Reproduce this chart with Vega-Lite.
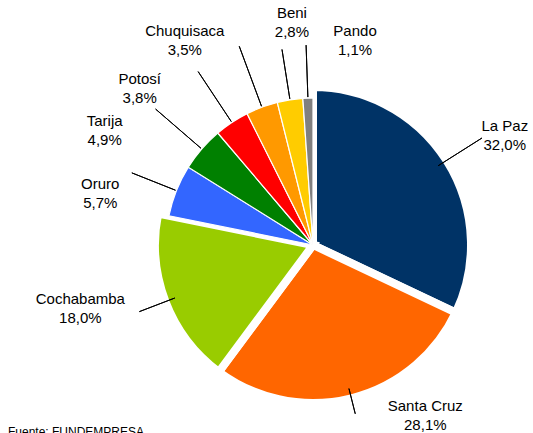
{
  "$schema": "https://vega.github.io/schema/vega-lite/v6.json",
  "autosize": "none",
  "padding": {"left": 93, "top": 57, "right": 0, "bottom": 0},
  "width": 440,
  "height": 376,
  "background": "white",
  "config": {"view": {"stroke": null}, "font": "Liberation Sans"},
  "title": {
    "text": "Fuente: FUNDEMPRESA",
    "orient": "bottom",
    "anchor": "start",
    "frame": "group",
    "fontSize": 12,
    "fontWeight": "normal",
    "font": "Liberation Sans",
    "color": "#000000",
    "offset": -6,
    "dx": -85
  },
  "data": {
    "values": [
      {"region": "La Paz", "pct": 32.0, "etiqueta": "32,0%", "orden": 1},
      {"region": "Santa Cruz", "pct": 28.1, "etiqueta": "28,1%", "orden": 2},
      {"region": "Cochabamba", "pct": 18.0, "etiqueta": "18,0%", "orden": 3},
      {"region": "Oruro", "pct": 5.7, "etiqueta": "5,7%", "orden": 4},
      {"region": "Tarija", "pct": 4.9, "etiqueta": "4,9%", "orden": 5},
      {"region": "Potosí", "pct": 3.8, "etiqueta": "3,8%", "orden": 6},
      {"region": "Chuquisaca", "pct": 3.5, "etiqueta": "3,5%", "orden": 7},
      {"region": "Beni", "pct": 2.8, "etiqueta": "2,8%", "orden": 8},
      {"region": "Pando", "pct": 1.1, "etiqueta": "1,1%", "orden": 9}
    ]
  },
  "layer": [
    {
      "mark": {
        "type": "arc",
        "stroke": "white",
        "radius": {"expr": "indexof(['La Paz','Santa Cruz','Cochabamba'], datum.region) >= 0 ? 158 : 147"},
        "strokeWidth": {"expr": "indexof(['La Paz','Santa Cruz','Cochabamba'], datum.region) >= 0 ? 8 : 1.2"}
      },
      "encoding": {
        "theta": {"field": "pct", "type": "quantitative", "stack": true, "scale": {"domain": [0, 99.9]}},
        "order": {"field": "orden", "type": "quantitative"},
        "color": {
          "field": "region",
          "type": "nominal",
          "legend": null,
          "scale": {
            "domain": ["La Paz", "Santa Cruz", "Cochabamba", "Oruro", "Tarija", "Potosí", "Chuquisaca", "Beni", "Pando"],
            "range": ["#003366", "#FF6600", "#99CC00", "#3366FF", "#008000", "#FF0000", "#FF9900", "#FFCC00", "#808080"]
          }
        }
      }
    },
    {
      "transform": [
        {"stack": "pct", "groupby": [], "sort": [{"field": "orden", "order": "ascending"}], "as": ["v0", "v1"]},
        {"calculate": "(datum.v0 + datum.v1) / 2", "as": "mid"}
      ],
      "mark": {"type": "arc", "radius2": 148, "stroke": "#000000", "strokeWidth": 1, "fillOpacity": 0},
      "encoding": {
        "theta": {"field": "mid", "type": "quantitative", "scale": {"domain": [0, 99.9]}},
        "theta2": {"field": "mid"},
        "radius": {
          "field": "mid",
          "type": "quantitative",
          "scale": {
            "type": "linear",
            "zero": false,
            "domain": [16, 46.05, 69.1, 80.95, 86.25, 90.6, 94.25, 97.4, 99.35],
            "range": [200, 174, 186, 195, 208, 208, 212, 198, 200]
          }
        }
      }
    },
    {
      "transform": [
        {"stack": "pct", "groupby": [], "sort": [{"field": "orden", "order": "ascending"}], "as": ["v0", "v1"]},
        {"calculate": "(datum.v0 + datum.v1) / 2", "as": "mid"},
        {"calculate": "datum.region + '\\n' + datum.etiqueta", "as": "texto"}
      ],
      "mark": {"type": "text", "fontSize": 15, "lineHeight": 19, "align": "center", "baseline": "middle", "dy": -9, "color": "#000000", "lineBreak": "\n"},
      "encoding": {
        "theta": {
          "field": "mid",
          "type": "quantitative",
          "scale": {
            "type": "linear",
            "domain": [16, 46.05, 69.1, 80.95, 86.25, 90.6, 94.25, 97.4, 99.35],
            "range": [1.0507, 2.5587, 4.4489, 4.9515, 5.2168, 5.4489, 5.7247, 6.1889, 6.4857]
          }
        },
        "radius": {
          "field": "mid",
          "type": "quantitative",
          "scale": {
            "type": "linear",
            "zero": false,
            "domain": [16, 46.05, 69.1, 80.95, 86.25, 90.6, 94.25, 97.4, 99.35],
            "range": [221, 204, 241, 219, 238, 234, 242, 224, 209]
          }
        },
        "text": {"field": "texto"}
      }
    }
  ],
  "resolve": {"scale": {"theta": "independent", "radius": "independent"}}
}
